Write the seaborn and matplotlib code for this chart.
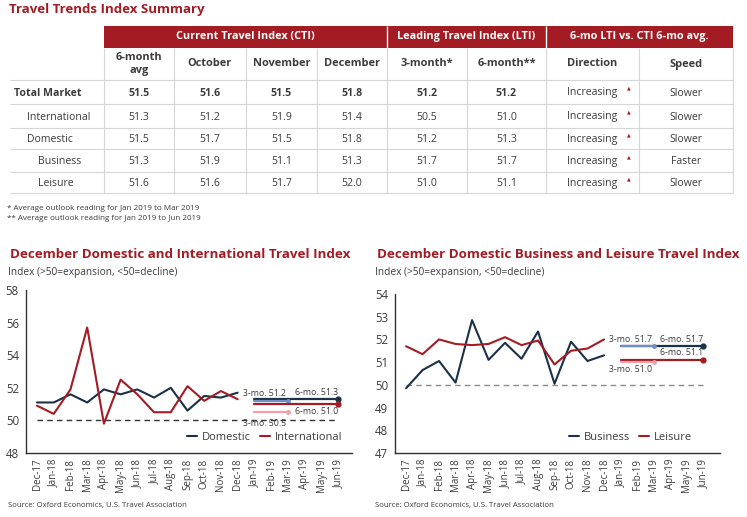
import seaborn as sns
import matplotlib.pyplot as plt
import numpy as np
import pandas as pd

# ---- data ----
row_labels = ['Total Market', 'International', 'Domestic', 'Business', 'Leisure']
cti_6m_avg = [51.5, 51.3, 51.5, 51.3, 51.6]
cti_oct = [51.6, 51.2, 51.7, 51.9, 51.6]
cti_nov = [51.5, 51.9, 51.5, 51.1, 51.7]
cti_dec = [51.8, 51.4, 51.8, 51.3, 52.0]
lti_3m = [51.2, 50.5, 51.2, 51.7, 51.0]
lti_6m = [51.2, 51.0, 51.3, 51.7, 51.1]
direction = ['Increasing', 'Increasing', 'Increasing', 'Increasing', 'Increasing']
speed = ['Slower', 'Slower', 'Slower', 'Faster', 'Slower']

group_headers = ['Current Travel Index (CTI)', 'Leading Travel Index (LTI)', '6-mo LTI vs. CTI 6-mo avg.']
col_headers = ['6-month\navg', 'October', 'November', 'December', '3-month*', '6-month**', 'Direction', 'Speed']
footnotes = ['* Average outlook reading for Jan 2019 to Mar 2019',
             '** Average outlook reading for Jan 2019 to Jun 2019']

months = ['Dec-17', 'Jan-18', 'Feb-18', 'Mar-18', 'Apr-18', 'May-18', 'Jun-18', 'Jul-18',
          'Aug-18', 'Sep-18', 'Oct-18', 'Nov-18', 'Dec-18', 'Jan-19', 'Feb-19', 'Mar-19',
          'Apr-19', 'May-19', 'Jun-19']

domestic = [51.1, 51.1, 51.6, 51.1, 51.9, 51.6, 51.9, 51.4, 52.0, 50.6, 51.5, 51.4, 51.7]
international = [50.9, 50.4, 51.9, 55.7, 49.8, 52.5, 51.6, 50.5, 50.5, 52.1, 51.2, 51.8, 51.3]
business = [49.85, 50.65, 51.05, 50.1, 52.85, 51.1, 51.85, 51.15, 52.35, 50.05, 51.9, 51.05, 51.3]
leisure = [51.7, 51.35, 52.0, 51.8, 51.75, 51.8, 52.1, 51.75, 51.95, 50.9, 51.5, 51.6, 52.0]

# colours
RED = '#a31c24'
NAVY = '#1b3149'
LIGHT_BLUE = '#6f8fc6'
PINK = '#f0a0a6'
TXT = '#3c3c3c'
GRID = '#d6d6d6'

sns.set_style("white")
plt.rcParams['font.family'] = ['Open Sans', 'DejaVu Sans']

fig = plt.figure(figsize=(7.47, 5.17), dpi=100)

# ---- table (drawn on a pixel-coordinate canvas) ----
ax_t = fig.add_axes([0, 0, 1, 1])
ax_t.set_xlim(0, 747)
ax_t.set_ylim(517, 0)
ax_t.axis('off')

ax_t.text(9, 10, 'Travel Trends Index Summary', color=RED, fontsize=9.5,
          fontweight='bold', va='center', ha='left')

col_edges = [10, 104, 174, 246, 317, 387, 467, 546, 639, 733]
row_edges = [80, 104, 128, 149, 172, 193]
band_top, band_bot = 26, 48

# red header band
ax_t.add_patch(plt.Rectangle((col_edges[1], band_top), col_edges[-1] - col_edges[1],
                             band_bot - band_top, color=RED, lw=0))
group_spans = [(col_edges[1], col_edges[5]), (col_edges[5], col_edges[7]), (col_edges[7], col_edges[9])]
for (x0, x1), lbl in zip(group_spans, group_headers):
    ax_t.text((x0 + x1) / 2, (band_top + band_bot) / 2, lbl, color='white', fontsize=7.8,
              fontweight='bold', ha='center', va='center')
for x in [col_edges[5], col_edges[7]]:
    ax_t.vlines(x, band_top, band_bot, color='white', lw=1)

# grid lines
ax_t.vlines(col_edges[1:], band_bot, row_edges[-1], color=GRID, lw=0.8)
ax_t.hlines(row_edges, col_edges[0], col_edges[-1], color=GRID, lw=0.8)

for i, h in enumerate(col_headers):
    ax_t.text((col_edges[i + 1] + col_edges[i + 2]) / 2, (band_bot + row_edges[0]) / 2, h,
              color=TXT, fontsize=7.9, fontweight='bold', ha='center', va='center',
              linespacing=1.2)

indent = [14, 27, 27, 38, 38]
table_cols = [cti_6m_avg, cti_oct, cti_nov, cti_dec, lti_3m, lti_6m]
for r, lbl in enumerate(row_labels):
    yc = (row_edges[r] + row_edges[r + 1]) / 2 + 3.5
    fw = 'bold' if r == 0 else 'normal'
    ax_t.text(indent[r], yc, lbl, color=TXT, fontsize=7.6, fontweight=fw, ha='left',
              va='baseline')
    for c, vals in enumerate(table_cols):
        ax_t.text((col_edges[c + 1] + col_edges[c + 2]) / 2, yc, f'{vals[r]:.1f}', color=TXT,
                  fontsize=7.6, fontweight=fw, ha='center', va='baseline')
    ax_t.text(592, yc, direction[r], color=TXT, fontsize=7.6, ha='center', va='baseline')
    ax_t.text(629, yc - 7.5, '\u25b2', color=RED, fontsize=3.5, ha='center', va='center',
              family='DejaVu Sans')
    ax_t.text((col_edges[8] + col_edges[9]) / 2, yc, speed[r], color=TXT, fontsize=7.6,
              ha='center', va='baseline')

for k, fn in enumerate(footnotes):
    ax_t.text(7, 209 + 10 * k, fn, color=TXT, fontsize=5.8, ha='left', va='center')

# chart titles / subtitles / sources
for x0, title in [(10, 'December Domestic and International Travel Index'),
                  (377, 'December Domestic Business and Leisure Travel Index')]:
    ax_t.text(x0, 255, title, color=RED, fontsize=9.6, fontweight='bold', ha='left', va='center')
    ax_t.text(x0 - 2, 273, 'Index (>50=expansion, <50=decline)', color=TXT, fontsize=7.3,
              ha='left', va='center')
    ax_t.text(x0 - 2, 506, 'Source: Oxford Economics, U.S. Travel Association', color=TXT,
              fontsize=5.6, ha='left', va='center')


# ---- line charts ----
def draw_chart(rect, xlim, ylim, yticks, names, series, row_idx, notes, legend_anchor, dash_col):
    ax = fig.add_axes(rect)
    pos = np.arange(len(series[0]))
    df = pd.DataFrame({'pos': np.concatenate([pos, pos]),
                       'value': series[0] + series[1],
                       'series': [names[0]] * len(pos) + [names[1]] * len(pos)})
    sns.lineplot(data=df, x='pos', y='value', hue='series', palette=[NAVY, RED],
                 linewidth=1.5, ax=ax)

    # dashed 50 line
    ax.hlines(50, 0, len(months) - 1, color=dash_col, lw=1, linestyle=(0, (4, 3)), zorder=1)

    # outlook lines (6-month then 3-month on top)
    fc6 = np.arange(13, 19)
    fc3 = np.arange(13, 16)
    for r, dark, light in zip(row_idx, [NAVY, RED], [LIGHT_BLUE, PINK]):
        sns.lineplot(x=fc6, y=[lti_6m[r]] * len(fc6), color=dark, linewidth=1.6,
                     legend=False, ax=ax)
        ax.plot(fc6[-1], lti_6m[r], 'o', color=dark, ms=3.5)
        sns.lineplot(x=fc3, y=[lti_3m[r]] * len(fc3), color=light, linewidth=1.6,
                     legend=False, ax=ax)
        ax.plot(fc3[-1], lti_3m[r], 'o', color=light, ms=2.5)

    for (xi, r, which, dy) in notes:
        val = lti_3m[r] if which == '3-mo.' else lti_6m[r]
        ax.annotate(f'{which} {val:.1f}', xy=(xi, val), xytext=(0, dy),
                    textcoords='offset points', ha='center', va='center',
                    fontsize=6.3, color=TXT)

    ax.set_xlim(*xlim)
    ax.set_ylim(*ylim)
    ax.set_yticks(yticks)
    ax.set_xticks(np.arange(len(months)))
    ax.set_xticklabels(months, rotation=90)
    ax.tick_params(axis='x', length=0, pad=4, labelsize=7, labelcolor=TXT)
    ax.tick_params(axis='y', length=0, pad=5, labelsize=8.3, labelcolor=TXT)
    ax.set_xlabel('')
    ax.set_ylabel('')
    for s in ['top', 'right']:
        ax.spines[s].set_visible(False)
    for s in ['left', 'bottom']:
        ax.spines[s].set_color('#333333')
        ax.spines[s].set_linewidth(1)

    handles, labels = ax.get_legend_handles_labels()
    ax.legend(handles[:2], labels[:2], loc='lower right', bbox_to_anchor=legend_anchor,
              ncol=2, frameon=False, handlelength=0.9, handletextpad=0.45,
              columnspacing=0.8, fontsize=8, labelcolor=TXT)
    return ax


draw_chart([26 / 747, 1 - 453 / 517, 326 / 747, 163 / 517], (-0.66, 18.84), (48, 58),
           np.arange(48, 59, 2), ['Domestic', 'International'], [domestic, international],
           [2, 1],
           [(13.6, 2, '3-mo.', 5), (16.7, 2, '6-mo.', 5),
            (16.7, 1, '6-mo.', -5), (13.6, 1, '3-mo.', -8)],
           (1.0, 0.0), '#333333')

draw_chart([395 / 747, 1 - 453 / 517, 325 / 747, 159 / 517], (-0.67, 19.03), (47, 54),
           np.arange(47, 55, 1), ['Business', 'Leisure'], [business, leisure],
           [3, 4],
           [(13.6, 3, '3-mo.', 5), (16.7, 3, '6-mo.', 5),
            (16.7, 4, '6-mo.', 5), (13.6, 4, '3-mo.', -5)],
           (0.945, 0.0), '#8a8a8a')

plt.savefig('out.png', dpi=100)
